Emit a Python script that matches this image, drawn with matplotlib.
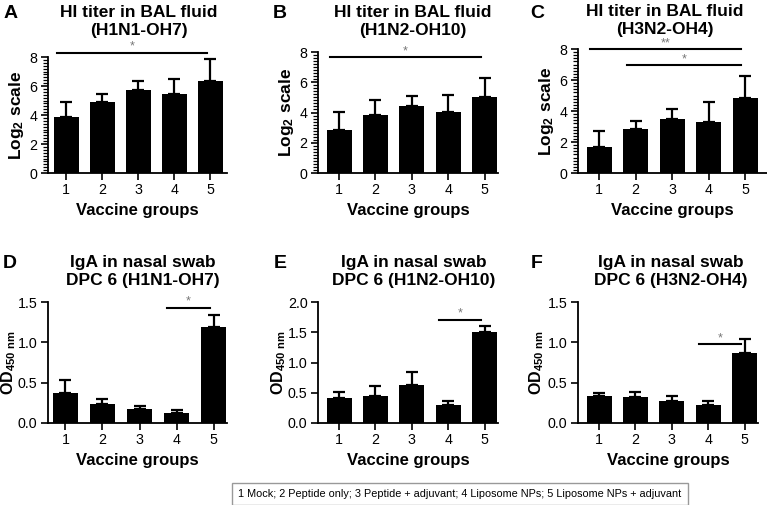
import matplotlib
matplotlib.use("Agg")
import matplotlib.pyplot as plt
from matplotlib.ticker import MultipleLocator, FormatStrFormatter

plt.rcParams['font.family'] = ['Liberation Sans', 'DejaVu Sans']
plt.rcParams['mathtext.fontset'] = 'custom'
plt.rcParams['mathtext.rm'] = 'Liberation Sans:bold'
plt.rcParams['mathtext.it'] = 'Liberation Sans:bold'
plt.rcParams['mathtext.bf'] = 'Liberation Sans:bold'

groups = [1, 2, 3, 4, 5]

hi_h1n1_mean = [3.88, 4.87, 5.70, 5.42, 6.36]
hi_h1n1_err = [1.03, 0.55, 0.65, 1.05, 1.48]
hi_h1n2_mean = [2.84, 3.81, 4.43, 4.03, 5.02]
hi_h1n2_err = [1.19, 1.04, 0.64, 1.10, 1.26]
hi_h3n2_mean = [1.70, 2.84, 3.46, 3.27, 4.82]
hi_h3n2_err = [1.03, 0.54, 0.65, 1.29, 1.46]

iga_h1n1_mean = [0.37, 0.236, 0.174, 0.124, 1.19]
iga_h1n1_err = [0.165, 0.064, 0.033, 0.037, 0.145]
iga_h1n2_mean = [0.41, 0.45, 0.62, 0.30, 1.50]
iga_h1n2_err = [0.10, 0.16, 0.23, 0.06, 0.10]
iga_h3n2_mean = [0.33, 0.32, 0.277, 0.223, 0.87]
iga_h3n2_err = [0.046, 0.07, 0.058, 0.047, 0.17]

fig = plt.figure(figsize=(7.67, 5.05), dpi=100)
W, H = 767.0, 505.0

def axes_px(left, right, top, bottom):
    return fig.add_axes([left / W, 1 - bottom / H, (right - left) / W, (bottom - top) / H])

log_label = r'$\mathregular{Log_2\ scale}$'
od_label = r'$\mathregular{OD_{450\ nm}}$'

panels = [
    dict(letter='A', lpos=(4, 5), tpos=(139, 5), pos=(48, 227, 57, 173),
         title='HI titer in BAL fluid\n(H1N1-OH7)',
         mean=hi_h1n1_mean, err=hi_h1n1_err, ylim=(0, 8), major=2, minor=0.2,
         ylabel=log_label, lab_dx=-22, sig=[(1, 5, 8.3, '*')], xlim=(0.49, 5.46)),
    dict(letter='B', lpos=(273, 5), tpos=(413, 5), pos=(318, 498, 52, 173),
         title='HI titer in BAL fluid\n(H1N2-OH10)',
         mean=hi_h1n2_mean, err=hi_h1n2_err, ylim=(0, 8), major=2, minor=0.2,
         ylabel=log_label, lab_dx=-22, sig=[(1, 5, 7.67, '*')], xlim=(0.42, 5.37)),
    dict(letter='C', lpos=(530, 5), tpos=(665, 4), pos=(578, 767, 49, 173),
         title='HI titer in BAL fluid\n(H3N2-OH4)',
         mean=hi_h3n2_mean, err=hi_h3n2_err, ylim=(0, 8), major=2, minor=0.2,
         ylabel=log_label, lab_dx=-22, sig=[(1, 5, 8.0, '**'), (2, 5, 6.95, '*')], xlim=(0.42, 5.6)),
    dict(letter='D', lpos=(3, 255), tpos=(143, 255), pos=(48, 227, 302, 423),
         title='IgA in nasal swab\nDPC 6 (H1N1-OH7)',
         mean=iga_h1n1_mean, err=iga_h1n1_err, ylim=(0, 1.5), major=0.5, minor=None,
         ylabel=od_label, lab_dx=-30, sig=[(4, 5, 1.43, '*')], xlim=(0.53, 5.36)),
    dict(letter='E', lpos=(274, 255), tpos=(414, 255), pos=(318, 498, 302, 423),
         title='IgA in nasal swab\nDPC 6 (H1N2-OH10)',
         mean=iga_h1n2_mean, err=iga_h1n2_err, ylim=(0, 2.0), major=0.5, minor=None,
         ylabel=od_label, lab_dx=-30, sig=[(4, 5, 1.71, '*')], xlim=(0.42, 5.37)),
    dict(letter='F', lpos=(531, 255), tpos=(671, 255), pos=(578, 758, 302, 423),
         title='IgA in nasal swab\nDPC 6 (H3N2-OH4)',
         mean=iga_h3n2_mean, err=iga_h3n2_err, ylim=(0, 1.5), major=0.5, minor=None,
         ylabel=od_label, lab_dx=-32, sig=[(4, 5, 0.975, '*')], xlim=(0.42, 5.37)),
]

for p in panels:
    l, r, t, b = p['pos']
    ax = axes_px(l, r, t, b)
    ax.bar(groups, p['mean'], width=0.69, color='black', zorder=2)
    ax.errorbar(groups, p['mean'], yerr=[[0] * 5, p['err']], fmt='none',
                ecolor='black', elinewidth=1.6, capsize=4.5, capthick=1.6, zorder=1)
    ax.set_xlim(*p['xlim'])
    ax.set_ylim(*p['ylim'])
    ax.set_xticks(groups)
    ax.yaxis.set_major_locator(MultipleLocator(p['major']))
    if p['minor']:
        ax.yaxis.set_minor_locator(MultipleLocator(p['minor']))
        ax.tick_params(axis='y', which='minor', length=3.5, width=0.9)
        ylabel_size = 12.5
    else:
        ax.yaxis.set_major_formatter(FormatStrFormatter('%.1f'))
        ylabel_size = 11.5
    for s in ['top', 'right']:
        ax.spines[s].set_visible(False)
    for s in ['left', 'bottom']:
        ax.spines[s].set_linewidth(1.3)
    ax.tick_params(axis='both', which='major', length=5, width=1.2, labelsize=10.3, pad=2.5)
    ax.set_xlabel('Vaccine groups', fontsize=12, fontweight='bold', labelpad=4)
    ax.set_ylabel(p['ylabel'], fontsize=ylabel_size, fontweight='bold')
    ax.yaxis.set_label_coords(p['lab_dx'] / (r - l), 0.5)
    for (x1, x2, y, txt) in p['sig']:
        dx = 0.25
        ax.plot([x1 - dx, x2 - 0.1], [y, y], color='black', lw=1.5, clip_on=False)
        ax.text((x1 - dx + x2 - 0.1) / 2, y, txt, ha='center', va='bottom',
                color='#777777', fontsize=9)
    fig.text(p['tpos'][0] / W, 1 - p['tpos'][1] / H, p['title'], ha='center', va='top',
             fontsize=12.5, fontweight='bold', linespacing=1.25)
    fig.text(p['lpos'][0] / W, 1 - p['lpos'][1] / H, p['letter'],
             fontsize=14, fontweight='bold', ha='left', va='top')

fig.text(460 / W, 1 - 494 / H,
         '1 Mock; 2 Peptide only; 3 Peptide + adjuvant; 4 Liposome NPs; 5 Liposome NPs + adjuvant',
         ha='center', va='center', fontsize=7.8,
         bbox=dict(boxstyle='square,pad=0.55', facecolor='white', edgecolor='#999999', linewidth=1))

fig.savefig('out.png', dpi=100)
